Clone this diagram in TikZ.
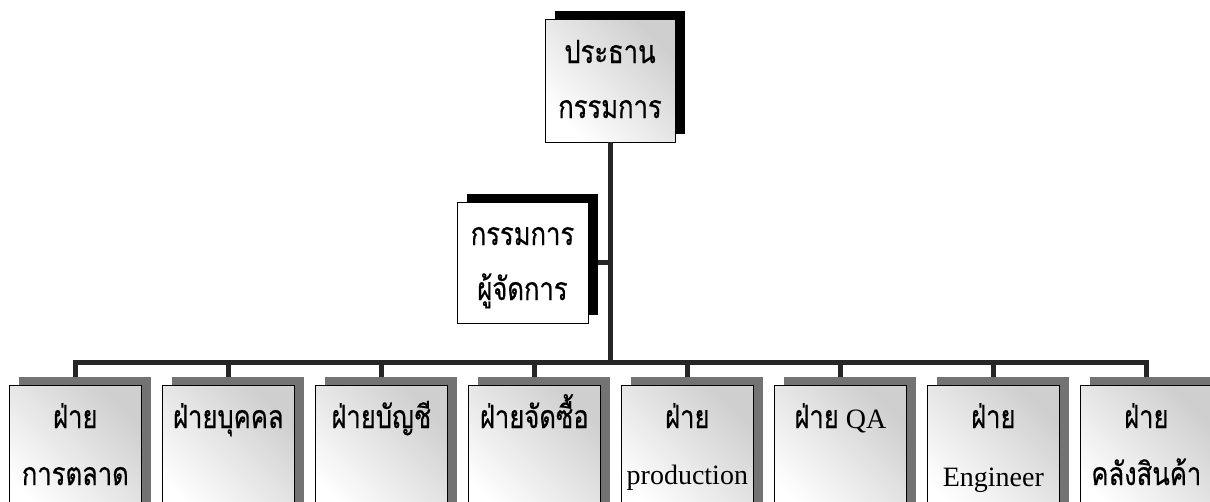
\documentclass[tikz,border=0pt]{standalone}
\usepackage{fontspec}
\setmainfont{Liberation Serif}
\newfontfamily\thai[Script=Thai, FakeStretch=0.8, FakeBold=0.5]{Loma}
\usetikzlibrary{shadows}
\tikzset{
  front/.style={draw=black, line width=0.7pt, rectangle, inner sep=0pt,
    top color=gray!38, bottom color=white, shading angle=-45},
  greyshadow/.style={general shadow={fill=black!55, shadow xshift=10pt, shadow yshift=8pt}},
  blackshadow/.style={general shadow={fill=black, shadow xshift=10pt, shadow yshift=8pt}},
  dept/.style={front, greyshadow, minimum width=132pt, minimum height=135pt, anchor=north west},
  conn/.style={draw=black!85, line width=5pt},
  th/.style={font=\thai\fontsize{32}{32}\selectfont, anchor=base, inner sep=0pt},
  lt/.style={font=\fontsize{28}{28}\selectfont, anchor=base, inner sep=0pt},
}
\begin{document}
\begin{tikzpicture}[x=1pt,y=-1pt]
\clip (0,0) rectangle (1210,501);
\fill[white] (0,0) rectangle (1210,501);
% top box
\node[front, blackshadow, minimum width=130pt, minimum height=123pt] (top) at (610,80.5) {};
% middle box
\node[draw=black, line width=0.7pt, fill=white, blackshadow, inner sep=0pt,
      minimum width=131pt, minimum height=121pt] (mid) at (522.5,262.5) {};
% departments
\foreach \i in {1,...,8} {
  \node[dept] (b\i) at ({9+153*(\i-1)},385) {};
}
% junction on the vertical line
\coordinate (j) at (610,362);
% connectors
\draw[conn] (top.south) -- (j);
\draw[conn] ([xshift=10pt]mid.east) -- (mid.east -| j);
\draw[conn] ([yshift=8pt]b1.north) -- (b1.north |- j) -- (b8.north |- j) -- ([yshift=8pt]b8.north);
\foreach \i in {2,...,7} {
  \draw[conn] (b\i.north |- j) -- ([yshift=8pt]b\i.north);
}
% texts top box
\node[th] (t1) at (610,63) {ประธาน};
\node[th] (t2) at (610,118) {กรรมการ};
% middle
\node[th] (m1) at (522.5,245) {กรรมการ};
\node[th] (m2) at (522.5,300) {ผู้จัดการ};
% departments text
\node[th] (d1a) at (b1.north |- 0,428) {ฝ่าย};
\node[th] (d1b) at (b1.north |- 0,485) {การตลาด};
\node[th] (d2a) at (b2.north |- 0,428) {ฝ่ายบุคคล};
\node[th] (d3a) at (b3.north |- 0,428) {ฝ่ายบัญชี};
\node[th] (d4a) at (b4.north |- 0,428) {ฝ่ายจัดซื้อ};
\node[th] (d5a) at (b5.north |- 0,428) {ฝ่าย};
\node[lt] (d5b) at (b5.north |- 0,484) {production};
\node[anchor=base, inner sep=0pt] (d6a) at (b6.north |- 0,428) {{\thai\fontsize{32}{32}\selectfont ฝ่าย}\hspace{7pt}{\fontsize{28}{28}\selectfont QA}};
\node[th] (d7a) at (b7.north |- 0,428) {ฝ่าย};
\node[lt] (d7b) at (b7.north |- 0,486) {Engineer};
\node[th] (d8a) at (b8.north |- 0,428) {ฝ่าย};
\node[th] (d8b) at (b8.north |- 0,485) {คลังสินค้า};
\end{tikzpicture}
\end{document}
